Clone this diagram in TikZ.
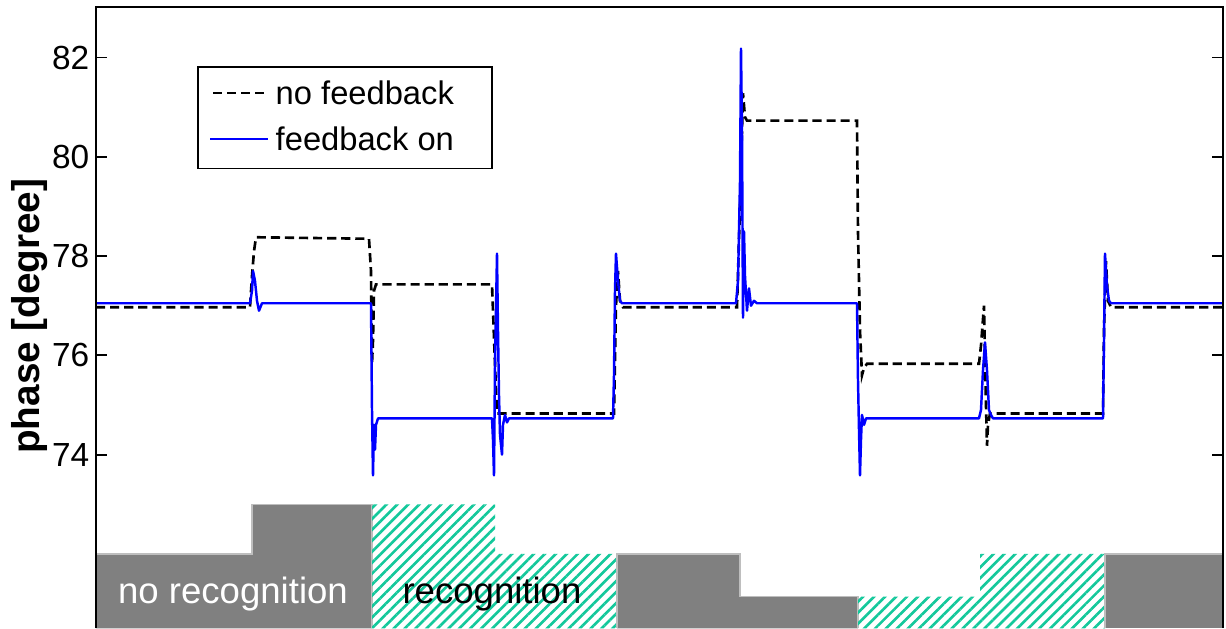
\documentclass[tikz,border=0pt]{standalone}
\usepackage{fontspec}
\setmainfont{Liberation Sans}
\usetikzlibrary{calc,patterns.meta}
\definecolor{hatchgreen}{RGB}{20,200,155}
\definecolor{bargray}{RGB}{128,128,128}
\definecolor{baredge}{RGB}{190,190,190}

\begin{document}
\begin{tikzpicture}[x=0.01cm,y=0.496cm]
                      \tikzstyle{bar}=[fill=bargray,draw=baredge,line width=0.4pt]
                      \tikzstyle{hatch}=[pattern={Lines[angle=45,distance=2.2pt,line width=0.75pt]},pattern color=hatchgreen]
                      \tikzstyle{nofb}=[black,line width=0.75pt,dash pattern=on 2.6pt off 1.4pt]
                      \tikzstyle{fbon}=[blue,line width=0.7pt,line join=round]
                      \tikzstyle{ticklab}=[anchor=east,inner sep=0pt,font=\fontsize{9.5}{11}\selectfont]
                      \tikzstyle{barlab}=[font=\fontsize{10.4}{12}\selectfont]
                      \begin{scope}[yshift=-34.968cm]
                      \useasboundingbox (0,70.5) rectangle (1226,83.161);
                      % recognition bars
                      \draw[bar] (96,70.5) -- (96,72) -- (252,72) -- (252,73) -- (372,73) -- (372,70.5);
                      \path[hatch] (372,70.5) -- (372,73) -- (495,73) -- (495,72) -- (617,72) -- (617,70.5) -- cycle;
                      \draw[bar] (617,70.5) -- (617,72) -- (740,72) -- (740,71.14) -- (858,71.14) -- (858,70.5);
                      \path[hatch] (858,70.5) -- (858,71.14) -- (980,71.14) -- (980,72) -- (1105,72) -- (1105,70.5) -- cycle;
                      \draw[bar] (1105,70.5) -- (1105,72) -- (1223,72) -- (1223,70.5);
                      \node[barlab,text=white] (norec) at (233,71.2) {no recognition};
                      \node[barlab] (rec) at (492,71.2) {recognition};
                      % no feedback
                      \draw[nofb] (96,76.97) -- (250,76.97) -- (252,77.6) -- (254,78.1) -- (256,78.38) -- (369,78.35) -- (371,77.7) -- (372,75.83) -- (373,76.3) -- (374,77.3) -- (376,77.43) -- (492,77.43) -- (493,76.9) -- (494,76.36) -- (496,75.3) -- (497,74.83) -- (614,74.83) -- (616,77.0) -- (618,77.7) -- (620,77.1) -- (623,76.97) -- (737,76.97) -- (740,79.0) -- (743,81.28) -- (745,80.8) -- (747,80.73) -- (857,80.73) -- (858,78.5) -- (860,76.5) -- (862,75.6) -- (864,75.75) -- (867,75.83) -- (979,75.83) -- (981,76.2) -- (984,77.0) -- (985,76.0) -- (986,75.0) -- (987,74.18) -- (988,74.6) -- (990,74.83) -- (1103,74.83) -- (1104,76.5) -- (1106,77.9) -- (1108,77.1) -- (1111,76.97) -- (1222,76.97);
                      % feedback on
                      \draw[fbon] (96,77.05) -- (250,77.05) -- (252,77.3) -- (253,77.7) -- (255,77.5) -- (257,77.1) -- (259,76.9) -- (262,77.05) -- (371,77.05) -- (372,74.9) -- (373,73.58) -- (374,74.6) -- (375,74.1) -- (376,74.6) -- (378,74.73) -- (492,74.73) -- (493,74.3) -- (494,73.58) -- (495,75.8) -- (497,78.05) -- (498,76.5) -- (499,75.2) -- (500,74.4) -- (502,74.0) -- (503,74.6) -- (505,74.8) -- (507,74.65) -- (509,74.73) -- (613,74.73) -- (614,75.6) -- (615,77.3) -- (616,78.05) -- (618,77.5) -- (620,77.1) -- (622,77.05) -- (736,77.05) -- (738,77.5) -- (740,79.5) -- (741,82.18) -- (742,80.5) -- (743,76.76) -- (744,78.5) -- (745,77.6) -- (747,76.9) -- (749,77.35) -- (751,77.0) -- (754,77.1) -- (757,77.05) -- (857,77.05) -- (858,75.5) -- (859,74.5) -- (860,73.58) -- (861,74.3) -- (862,74.8) -- (864,74.6) -- (866,74.73) -- (979,74.73) -- (981,74.9) -- (983,75.7) -- (985,76.26) -- (987,75.7) -- (989,74.9) -- (991,74.8) -- (993,74.73) -- (1103,74.73) -- (1104,76.3) -- (1105,78.05) -- (1107,77.4) -- (1109,77.1) -- (1111,77.05) -- (1222,77.05);
                      % legend
                      \draw[fill=white,line width=0.4pt] (198,81.81) rectangle (492,79.77);
                      \node[anchor=west,inner sep=2pt,font=\fontsize{9.3}{11}\selectfont] (nf) at (268,81.29) {no feedback};
                      \node[anchor=west,inner sep=2pt,font=\fontsize{9.3}{11}\selectfont] (fo) at (268,80.36) {feedback on};
                      \coordinate (nfs) at (213,81.29);
                      \coordinate (fos) at (210,80.36);
                      \draw[nofb] (nfs) -- (nf.west);
                      \draw[fbon] (fos) -- (fo.west);
                      % axes
                      \foreach \v in {74,76,...,82} {
                        \draw[line width=0.5pt] (96,\v) -- (107,\v);
                        \draw[line width=0.5pt] (1223,\v) -- (1212,\v);
                        \node[ticklab] (t\v) at (90,\v) {\v};
                      }
                      \node[rotate=90,font=\bfseries\fontsize{11}{13}\selectfont] (ylab) at (30,76.79) {phase [degree]};
                      \draw[line width=0.6pt] (96,70.5) -- (96,83.02) -- (1223,83.02) -- (1223,70.5);
                      \end{scope}
                  \end{tikzpicture}
\end{document}
